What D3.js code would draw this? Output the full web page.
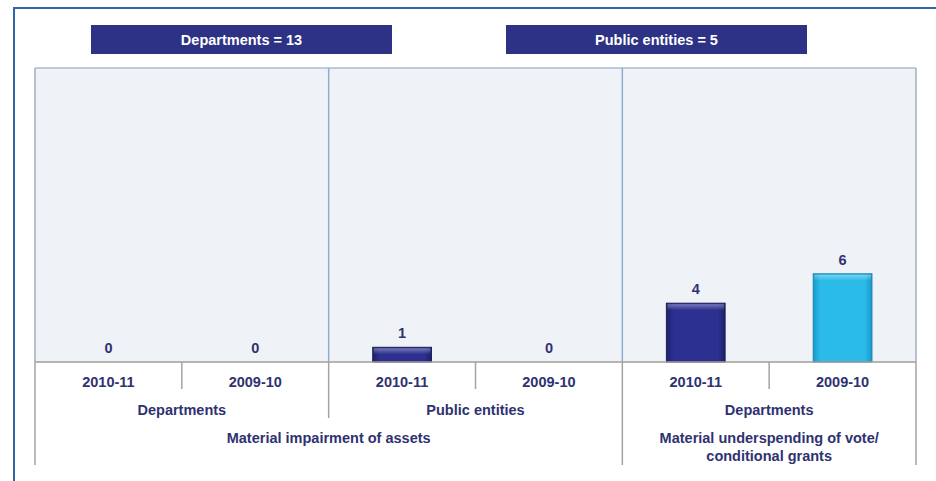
<!DOCTYPE html>
<html>
<head>
<meta charset="utf-8">
<script src="https://cdn.jsdelivr.net/npm/d3@7"></script>
<style>
  html, body { margin: 0; padding: 0; background: #ffffff; }
  svg { display: block; }
  text { font-family: "Liberation Sans", Arial, sans-serif; font-weight: bold; }
</style>
</head>
<body>
<div id="chart"></div>
<script>
// Audit findings: counts per year, grouped by entity type and finding
const years = ["2010-11", "2009-10", "2010-11", "2009-10", "2010-11", "2009-10"];
const values = [0, 0, 1, 0, 4, 6];
const entityGroups = ["Departments", "Public entities", "Departments"];
const findingGroups = [
  ["Material impairment of assets"],
  ["Material underspending of vote/", "conditional grants"]
];
const findingSpans = [[0, 4], [4, 6]];   // category index ranges per finding
const headerLabels = ["Departments = 13", "Public entities = 5"];

const W = 936, H = 481;
const plot = { left: 35, right: 916, top: 68, base: 362, bottom: 465 };

const navy = "#2e3285";
const textCol = "#2f3270";
const fs = 14.5;

const svg = d3.select("#chart").append("svg")
  .attr("width", W).attr("height", H);

const defs = svg.append("defs");
function barGradient(id, edge, mid) {
  const g = defs.append("linearGradient").attr("id", id)
    .attr("x1", 0).attr("x2", 1).attr("y1", 0).attr("y2", 0);
  g.append("stop").attr("offset", "0%").attr("stop-color", edge);
  g.append("stop").attr("offset", "12%").attr("stop-color", mid);
  g.append("stop").attr("offset", "88%").attr("stop-color", mid);
  g.append("stop").attr("offset", "100%").attr("stop-color", edge);
}
barGradient("gNavy", "#1d2068", "#2c3090");
barGradient("gSky", "#1a98c8", "#2bbbe9");
const topShade = defs.append("linearGradient").attr("id", "gTop")
  .attr("x1", 0).attr("x2", 0).attr("y1", 0).attr("y2", 1);
topShade.append("stop").attr("offset", "0%").attr("stop-color", "#ffffff").attr("stop-opacity", 0.35);
topShade.append("stop").attr("offset", "100%").attr("stop-color", "#ffffff").attr("stop-opacity", 0);

// outer frame (top and left rules)
svg.append("line").attr("x1", 14).attr("x2", W).attr("y1", 8).attr("y2", 8)
  .attr("stroke", "#2f68a8").attr("stroke-width", 2);
svg.append("line").attr("x1", 14).attr("x2", 14).attr("y1", 7).attr("y2", H)
  .attr("stroke", "#2f68a8").attr("stroke-width", 2);

// scales
const x = d3.scaleBand().domain(d3.range(values.length))
  .range([plot.left, plot.right]).paddingInner(0).paddingOuter(0);
const y = d3.scaleLinear().domain([0, 20]).range([plot.base, plot.top]);
const barW = x.bandwidth() * 0.4;

// plot background
svg.append("rect").attr("x", plot.left).attr("y", plot.top)
  .attr("width", plot.right - plot.left).attr("height", plot.base - plot.top)
  .attr("fill", "#eff3f7");
svg.append("line").attr("x1", plot.left).attr("x2", plot.right)
  .attr("y1", plot.top).attr("y2", plot.top)
  .attr("stroke", "#a9bcd4").attr("stroke-width", 1.5);

// header boxes
const headers = [{ x0: 91, x1: 392 }, { x0: 506, x1: 807 }];
headers.forEach((h, i) => {
  svg.append("rect").attr("x", h.x0).attr("y", 25)
    .attr("width", h.x1 - h.x0).attr("height", 29)
    .attr("fill", navy);
  svg.append("text").attr("x", (h.x0 + h.x1) / 2).attr("y", 45)
    .attr("text-anchor", "middle").attr("fill", "#ffffff")
    .attr("font-size", fs).text(headerLabels[i]);
});

// bars
const bars = svg.append("g");
values.forEach((v, i) => {
  const bx = x(i) + (x.bandwidth() - barW) / 2;
  const fill = years[i] === "2009-10" ? "url(#gSky)" : "url(#gNavy)";
  const stroke = years[i] === "2009-10" ? "#1786b4" : "#1a1d5c";
  if (v > 0) {
    bars.append("rect").attr("x", bx).attr("y", y(v))
      .attr("width", barW).attr("height", y(0) - y(v))
      .attr("fill", fill).attr("stroke", stroke).attr("stroke-width", 1);
    bars.append("rect").attr("x", bx + 1).attr("y", y(v) + 1)
      .attr("width", barW - 2).attr("height", Math.min(6, y(0) - y(v) - 2))
      .attr("fill", "url(#gTop)");
  }
  bars.append("text").attr("x", x(i) + x.bandwidth() / 2).attr("y", y(v) - 9)
    .attr("text-anchor", "middle").attr("fill", textCol)
    .attr("font-size", fs).text(v);
});

// baseline
svg.append("line").attr("x1", plot.left).attr("x2", plot.right)
  .attr("y1", plot.base).attr("y2", plot.base)
  .attr("stroke", "#a39d99").attr("stroke-width", 1.5);

// panel dividers inside plot area
[2, 4].forEach(i => {
  svg.append("line").attr("x1", x(i)).attr("x2", x(i))
    .attr("y1", plot.top).attr("y2", plot.base)
    .attr("stroke", "#8eabd0").attr("stroke-width", 1.5);
});
// plot side edges
[plot.left, plot.right].forEach(px => {
  svg.append("line").attr("x1", px).attr("x2", px)
    .attr("y1", plot.top).attr("y2", plot.base)
    .attr("stroke", "#a2aec0").attr("stroke-width", 1.5);
});

// hierarchical category axis
const axis = svg.append("g").attr("stroke", "#aaa29e").attr("stroke-width", 1.5);
[1, 3, 5].forEach(i => axis.append("line")
  .attr("x1", x(i)).attr("x2", x(i)).attr("y1", plot.base).attr("y2", 389));
axis.append("line").attr("x1", x(2)).attr("x2", x(2))
  .attr("y1", plot.base).attr("y2", 418);
[plot.left, x(4), plot.right].forEach(px => axis.append("line")
  .attr("x1", px).attr("x2", px).attr("y1", plot.base).attr("y2", plot.bottom));

const labels = svg.append("g").attr("fill", textCol).attr("font-size", fs)
  .attr("text-anchor", "middle");
years.forEach((yr, i) => labels.append("text")
  .attr("x", x(i) + x.bandwidth() / 2).attr("y", 387).text(yr));
entityGroups.forEach((g, k) => labels.append("text")
  .attr("x", x(2 * k) + x.bandwidth()).attr("y", 415).text(g));
findingGroups.forEach((lines, k) => {
  const [a, b] = findingSpans[k];
  const cx = (x(a) + x(b - 1) + x.bandwidth()) / 2;
  lines.forEach((ln, j) => labels.append("text")
    .attr("x", cx).attr("y", 443 + j * 18).text(ln));
});
</script>
</body>
</html>
